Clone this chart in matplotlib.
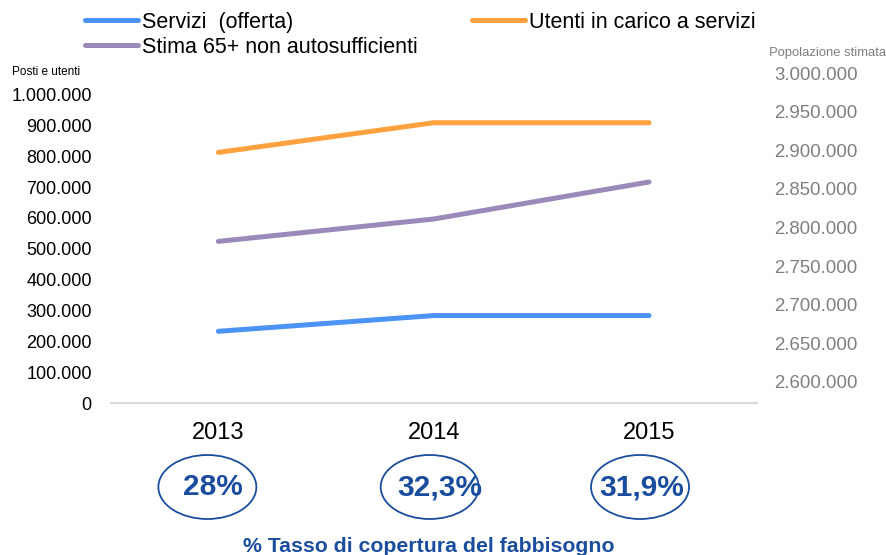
import matplotlib
matplotlib.use("Agg")
import matplotlib.pyplot as plt
from matplotlib.ticker import FuncFormatter, FixedLocator
from matplotlib.patches import Ellipse
from matplotlib.lines import Line2D
import matplotlib.transforms as mtransforms

plt.rcParams['font.family'] = ['Liberation Sans', 'DejaVu Sans']

# ---- data ----
anni = ["2013", "2014", "2015"]
servizi = [233000, 284000, 284000]
utenti = [812000, 908000, 908000]
stima = [2782000, 2811000, 2859000]
copertura = ["28%", "32,3%", "31,9%"]
left_ticks = [0, 100000, 200000, 300000, 400000, 500000, 600000, 700000, 800000, 900000, 1000000]
right_ticks = [2600000, 2650000, 2700000, 2750000, 2800000, 2850000, 2900000, 2950000, 3000000]

# ---- styles ----
c_serv = "#4b93f4"
c_uten = "#ffa13f"
c_stima = "#9a8aba"
c_blue = "#1b4d9e"
lw = 3.6

W, H = 886, 555
fig = plt.figure(figsize=(W / 100, H / 100), dpi=100)

ax_l, ax_r, ax_t, ax_b = 110.7, 756.7, 73.3, 403.3
ax = fig.add_axes([ax_l / W, (H - ax_b) / H, (ax_r - ax_l) / W, (ax_b - ax_t) / H])
ax2 = ax.twinx()

x = list(range(len(anni)))
kw = dict(lw=lw, solid_capstyle='round', solid_joinstyle='round', clip_on=False)
ax.plot(x, servizi, color=c_serv, **kw)
ax.plot(x, utenti, color=c_uten, **kw)
ax2.plot(x, stima, color=c_stima, **kw)

ax.set_xlim(-0.5, len(anni) - 0.5)
ax.set_xticks(x)
ax.set_xticklabels(anni, fontsize=17)

# left axis: 0 at bottom, 1.000.000 at 94.3 px
ppx_l = 1000000 / (ax_b - 94.3)
ax.set_ylim(0, (ax_b - ax_t) * ppx_l)
ax.yaxis.set_major_locator(FixedLocator(left_ticks))
# right axis: 2.600.000 at 381.7 px, 3.000.000 at 73.3 px
ppx_r = 400000 / (381.7 - 73.3)
ax2.set_ylim(2600000 - (ax_b - 381.7) * ppx_r, 3000000)
ax2.yaxis.set_major_locator(FixedLocator(right_ticks))

fmt = FuncFormatter(lambda v, p: f"{int(round(v)):,}".replace(",", "."))
ax.yaxis.set_major_formatter(fmt)
ax2.yaxis.set_major_formatter(fmt)

for a in (ax, ax2):
    for s in a.spines.values():
        s.set_visible(False)
ax.spines['bottom'].set_visible(True)
ax.spines['bottom'].set_color("#d9d9d9")
ax.spines['bottom'].set_linewidth(1.5)

ax.tick_params(axis='y', length=0, labelsize=13, pad=13.7, labelcolor="black")
ax.tick_params(axis='x', length=0, pad=13.5, labelcolor="black")
ax2.tick_params(axis='y', length=0, labelsize=13.4, pad=12.5, labelcolor="#7f7f7f")

# axis titles
fig.text(12 / W, 1 - 71.7 / H, "Posti e utenti", fontsize=8.5, va='center', ha='left', color='black')
fig.text(886 / W, 1 - 53.3 / H, "Popolazione stimata", fontsize=9.4, va='center', ha='right', color='#7f7f7f')

# legend
handles = [Line2D([], [], color=c_serv, lw=lw, solid_capstyle='round'),
           Line2D([], [], color=c_stima, lw=lw, solid_capstyle='round'),
           Line2D([], [], color=c_uten, lw=lw, solid_capstyle='round')]
labels = ["Servizi  (offerta)", "Stima 65+ non autosufficienti", "Utenti in carico a servizi"]
fs = 15.5
fs_px = fs * 100 / 72
fig.legend(handles, labels, ncol=2, loc='upper left', bbox_to_anchor=(85 / W, 1 - 12 / H),
           frameon=False, fontsize=fs, borderpad=0, borderaxespad=0,
           handlelength=53 / fs_px, handletextpad=4 / fs_px, columnspacing=54 / fs_px,
           labelspacing=0.18)

# coverage ellipses and labels
ell_dx = [-11, -4, -9]
txt_dx = [-5, 6, -7]
trans = mtransforms.blended_transform_factory(ax.transData, fig.transFigure)
fig.canvas.draw()
for i, lab in enumerate(copertura):
    xd = ax.transData.transform((x[i], 0))[0] + ell_dx[i]
    e = Ellipse((0, 0), width=98, height=64, fill=False, edgecolor=c_blue, lw=1.3,
                transform=mtransforms.Affine2D().translate(xd, H - 487))
    e.set_clip_on(False)
    fig.add_artist(e)
    off_t = mtransforms.ScaledTranslation(txt_dx[i] / 100, 0, fig.dpi_scale_trans)
    fig.text(x[i], 1 - 487 / H, lab, transform=trans + off_t, ha='center', va='center',
             fontsize=21.5, fontweight='bold', color=c_blue)

fig.text(429 / W, 1 - 551.7 / H, "% Tasso di copertura del fabbisogno", ha='center', va='baseline',
         fontsize=15.3, fontweight='bold', color=c_blue)

fig.savefig("out.png", dpi=100)
